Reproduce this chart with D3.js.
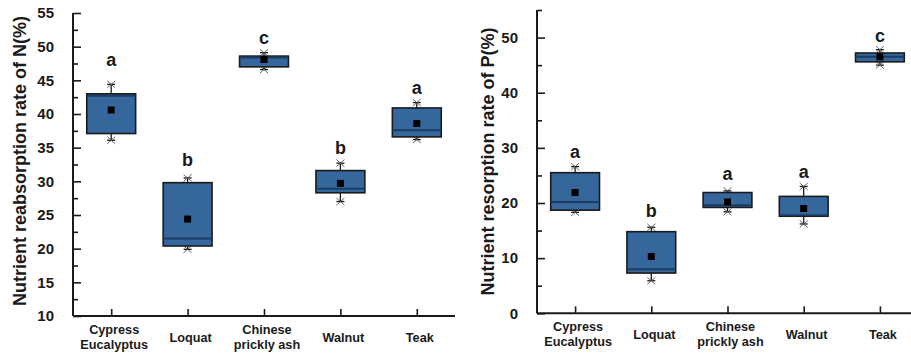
<!DOCTYPE html>
<html>
<head>
<meta charset="utf-8">
<script src="https://cdn.jsdelivr.net/npm/d3@7"></script>
<style>
  html, body { margin: 0; padding: 0; background: #fff; }
  svg { display: block; font-family: "Liberation Sans", Arial, sans-serif; }
</style>
</head>
<body>
<svg id="chart" width="911" height="354"></svg>
<script>
// ---------- data ----------
const categories = ["Cypress\nEucalyptus", "Loquat", "Chinese\nprickly ash", "Walnut", "Teak"];

// Nitrogen resorption (left panel)
const nMin    = [36.1, 19.9, 46.6, 27.0, 36.2];
const nQ1     = [37.1, 20.4, 47.0, 28.3, 36.6];
const nMedian = [42.7, 21.5, 48.4, 28.9, 37.6];
const nQ3     = [43.0, 29.8, 48.6, 31.6, 40.9];
const nMax    = [44.4, 30.5, 49.1, 32.7, 41.7];
const nMean   = [40.6, 24.4, 48.1, 29.7, 38.6];
const nLetters = ["a", "b", "c", "b", "a"];
const nLetterAt = [48.0, 33.2, 51.3, 35.0, 43.9];

// Phosphorus resorption (right panel)
const pMin    = [18.3, 5.9, 18.4, 16.2, 45.0];
const pQ1     = [18.7, 7.3, 19.2, 17.6, 45.6];
const pMedian = [20.2, 8.0, 19.6, 17.8, 46.5];
const pQ3     = [25.5, 14.8, 21.9, 21.2, 47.2];
const pMax    = [26.6, 15.6, 22.2, 23.0, 47.8];
const pMean   = [21.9, 10.3, 20.2, 19.0, 46.5];
const pLetters = ["a", "b", "a", "a", "c"];
const pLetterAt = [29.3, 18.6, 25.4, 25.7, 50.3];

const nTicks = [10, 15, 20, 25, 30, 35, 40, 45, 50, 55];
const nMinorTicks = [12.5, 17.5, 22.5, 27.5, 32.5, 37.5, 42.5, 47.5, 52.5];
const pTicks = [0, 10, 20, 30, 40, 50];
const pMinorTicks = [5, 15, 25, 35, 45, 55];

const nTitle = "Nutrient reabsorption rate of N(%)";
const pTitle = "Nutrient resorption rate of P(%)";

// ---------- drawing ----------
const svg = d3.select("#chart");
const FILL = "#35679d";
const MED = "#1b3b60";
const TXT = "#1a1a1a";

function panel(cfg) {
  const g = svg.append("g");
  const x = d3.scaleLinear().domain([0.5, categories.length + 0.5]).range([cfg.x0, cfg.x1]);
  const y = d3.scaleLinear().domain(cfg.domain).range([cfg.y0, cfg.y1]);
  const step = x(2) - x(1);
  const bw = step * 0.64;

  // y axis (ticks inward)
  const yAxis = d3.axisLeft(y).tickValues(cfg.ticks).tickSize(-8).tickPadding(19).tickFormat(d3.format("d"));
  const ya = g.append("g").attr("transform", `translate(${cfg.x0},0)`).call(yAxis);
  const yMinor = d3.axisLeft(y).tickValues(cfg.minor).tickSize(-5).tickFormat("");
  const ym = g.append("g").attr("transform", `translate(${cfg.x0},0)`).call(yMinor);
  [ya, ym].forEach(a => {
    a.select(".domain").attr("stroke", "#1a1a1a").attr("stroke-width", 2)
      .attr("d", `M0,${cfg.y0}V${cfg.y1}`);
    a.selectAll(".tick line").attr("stroke", "#1a1a1a").attr("stroke-width", 1.6);
  });
  ya.selectAll(".tick text").attr("font-size", 15).attr("font-weight", "bold").attr("fill", TXT);

  // x axis
  const xAxis = d3.axisBottom(x).tickValues(d3.range(1, categories.length + 1)).tickSize(-7).tickFormat("");
  const xa = g.append("g").attr("transform", `translate(0,${cfg.y0})`).call(xAxis);
  xa.select(".domain").attr("stroke", "#1a1a1a").attr("stroke-width", 2)
    .attr("d", `M${cfg.x0},0H${cfg.x1}`);
  xa.selectAll(".tick line").attr("stroke", "#1a1a1a").attr("stroke-width", 1.6);

  // category labels
  categories.forEach((c, i) => {
    const lines = c.split("\n");
    const t = g.append("text")
      .attr("x", x(i + 1) + 3)
      .attr("text-anchor", "middle")
      .attr("font-size", 12.7).attr("font-weight", "bold").attr("fill", TXT);
    if (lines.length === 2) {
      t.attr("y", cfg.y0 + 18);
      lines.forEach((l, j) => t.append("tspan").attr("x", x(i + 1) + 3).attr("dy", j === 0 ? 0 : 14.5).text(l));
    } else {
      t.attr("y", cfg.y0 + 26).text(lines[0]);
    }
  });

  // y title
  g.append("text")
    .attr("transform", `translate(${cfg.titleX},${cfg.titleY}) rotate(-90)`)
    .attr("text-anchor", "middle")
    .attr("font-size", 18).attr("font-weight", "bold").attr("fill", TXT)
    .text(cfg.title);

  // boxes
  const d = cfg.data;
  categories.forEach((c, i) => {
    const cx = x(i + 1);
    const bg = g.append("g");
    // whiskers
    bg.append("line").attr("x1", cx).attr("x2", cx).attr("y1", y(d.q3[i])).attr("y2", y(d.max[i]))
      .attr("stroke", "#1a1a1a").attr("stroke-width", 1.3);
    bg.append("line").attr("x1", cx).attr("x2", cx).attr("y1", y(d.q1[i])).attr("y2", y(d.min[i]))
      .attr("stroke", "#1a1a1a").attr("stroke-width", 1.3);
    [d.max[i], d.min[i]].forEach(v => {
      bg.append("line").attr("x1", cx - 4).attr("x2", cx + 4).attr("y1", y(v)).attr("y2", y(v))
        .attr("stroke", "#1a1a1a").attr("stroke-width", 1.3);
      bg.append("path")
        .attr("d", `M${cx - 4},${y(v) - 3.5}L${cx + 4},${y(v) + 3.5}M${cx - 4},${y(v) + 3.5}L${cx + 4},${y(v) - 3.5}`)
        .attr("stroke", "#555").attr("stroke-width", 0.9);
    });
    // box
    bg.append("rect")
      .attr("x", cx - bw / 2).attr("width", bw)
      .attr("y", y(d.q3[i])).attr("height", y(d.q1[i]) - y(d.q3[i]))
      .attr("fill", FILL).attr("stroke", "#1a1a1a").attr("stroke-width", 1.6);
    // median
    bg.append("line").attr("x1", cx - bw / 2).attr("x2", cx + bw / 2)
      .attr("y1", y(d.med[i])).attr("y2", y(d.med[i]))
      .attr("stroke", MED).attr("stroke-width", 2);
    // mean
    bg.append("rect").attr("x", cx - 3.5).attr("y", y(d.mean[i]) - 3.5).attr("width", 7).attr("height", 7)
      .attr("fill", "#000");
    // letter
    g.append("text").attr("x", cx).attr("y", y(d.letterAt[i]))
      .attr("dy", "0.35em").attr("text-anchor", "middle")
      .attr("font-size", 18).attr("font-weight", "bold").attr("fill", TXT)
      .text(d.letters[i]);
  });
}

panel({
  x0: 73, x1: 455, y0: 316, y1: 13, domain: [10, 55],
  ticks: nTicks, minor: nMinorTicks, title: nTitle, titleX: 26, titleY: 161,
  data: { min: nMin, q1: nQ1, med: nMedian, q3: nQ3, max: nMax, mean: nMean, letters: nLetters, letterAt: nLetterAt }
});
panel({
  x0: 537, x1: 918, y0: 313.3, y1: 10, domain: [0, 55],
  ticks: pTicks, minor: pMinorTicks, title: pTitle, titleX: 494, titleY: 161.5,
  data: { min: pMin, q1: pQ1, med: pMedian, q3: pQ3, max: pMax, mean: pMean, letters: pLetters, letterAt: pLetterAt }
});
</script>
</body>
</html>
